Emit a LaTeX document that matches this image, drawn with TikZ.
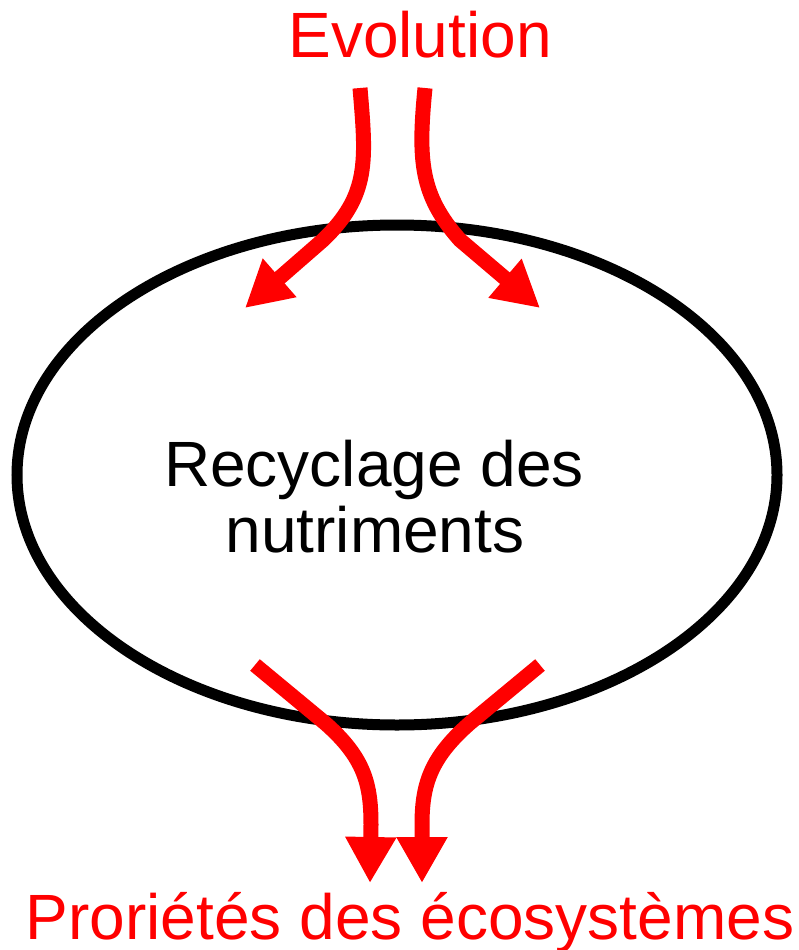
\documentclass[tikz,border=0pt]{standalone}
\usepackage{fontspec}
\setmainfont{Liberation Sans}
\usetikzlibrary{arrows.meta,shapes.geometric}
\definecolor{evred}{RGB}{255,0,0}
\begin{document}
\begin{tikzpicture}[x=1pt,y=-1pt,
  flow/.style={draw=evred,line width=15pt,-{Triangle[length=46pt,width=48pt]}},
  bigtxt/.style={font=\fontsize{64}{72}\selectfont,inner sep=0pt,anchor=base}]
\useasboundingbox (0,0) rectangle (798,950);
\node[draw,line width=11pt,ellipse,minimum width=760pt,minimum height=500pt,inner sep=0pt] (cycle) at (397,475) {};
\node[bigtxt,text=evred] (evo) at (420,58) {Evolution};
\node[bigtxt] (rec1) at (374,486) {Recyclage des};
\node[bigtxt] (rec2) at (375,552) {nutriments};
\node[bigtxt,text=evred] (prop) at (410,939) {Proriétés des écosystèmes};
\coordinate (a1s) at (360,88);
\coordinate (a1t) at (245,308);
\coordinate (a2s) at (425,88);
\coordinate (a2t) at (540,308);
\coordinate (b1s) at (255,665);
\coordinate (b1t) at (370,883);
\coordinate (b2s) at (540,665);
\coordinate (b2t) at (422,883);
\draw[flow] (a1s) .. controls (366,160) and (370,195) .. (323,240) -- (a1t);
\draw[flow] (a2s) .. controls (418,160) and (420,195) .. (460,240) -- (a2t);
\draw[flow] (b1s) -- (325,723) .. controls (365,758) and (371,785) .. (371,825) -- (b1t);
\draw[flow] (b2s) -- (470,723) .. controls (430,758) and (422,785) .. (422,825) -- (b2t);
\end{tikzpicture}
\end{document}
